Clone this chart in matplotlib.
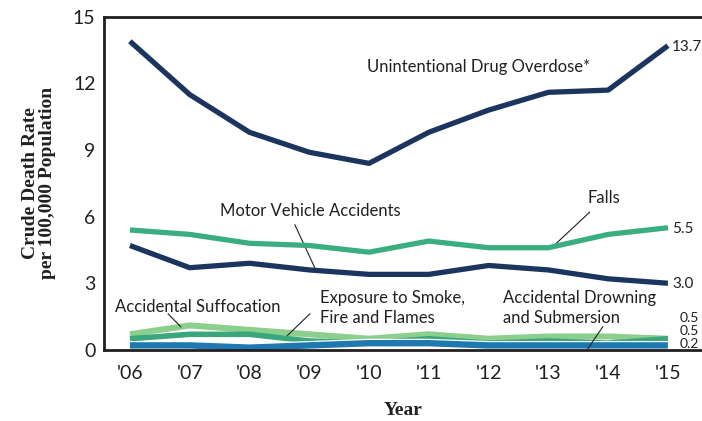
import matplotlib

matplotlib.use("Agg")
import matplotlib.pyplot as plt

years = [2006, 2007, 2008, 2009, 2010, 2011, 2012, 2013, 2014, 2015]
year_labels = ["'06", "'07", "'08", "'09", "'10", "'11", "'12", "'13", "'14", "'15"]

drug_overdose = [13.9, 11.5, 9.8, 8.9, 8.4, 9.8, 10.8, 11.6, 11.7, 13.7]
falls = [5.4, 5.2, 4.8, 4.7, 4.4, 4.9, 4.6, 4.6, 5.2, 5.5]
motor_vehicle = [4.7, 3.7, 3.9, 3.6, 3.4, 3.4, 3.8, 3.6, 3.2, 3.0]
suffocation = [0.7, 1.1, 0.9, 0.7, 0.5, 0.7, 0.5, 0.6, 0.6, 0.5]
smoke_fire = [0.5, 0.7, 0.7, 0.4, 0.3, 0.5, 0.3, 0.4, 0.3, 0.5]
drowning = [0.2, 0.2, 0.1, 0.2, 0.3, 0.3, 0.2, 0.2, 0.2, 0.2]

end_labels = ["13.7", "5.5", "3.0", "0.5", "0.5", "0.2"]

NAVY = "#1c355e"
FALLS_GREEN = "#3aae80"
LIGHT_GREEN = "#8ccf8c"
MID_GREEN = "#3aa67c"
BLUE = "#1f78b0"
INK = "#231f20"

SANS = "Lato"
SERIF = "Liberation Serif"

fig = plt.figure(figsize=(7.02, 4.21), dpi=100)
ax = fig.add_axes([0.148, 0.169, 0.852, 0.791])

ax.plot(years, suffocation, color=LIGHT_GREEN, lw=4.4, solid_capstyle="butt", zorder=2)
ax.plot(years, smoke_fire, color=MID_GREEN, lw=4.0, solid_capstyle="butt", zorder=3)
ax.plot(years, drowning, color="white", lw=6.4, solid_capstyle="butt", zorder=4)
ax.plot(years, drowning, color=BLUE, lw=4.6, solid_capstyle="butt", zorder=4)
ax.plot(years, motor_vehicle, color=NAVY, lw=3.8, solid_capstyle="butt", zorder=5)
ax.plot(years, falls, color=FALLS_GREEN, lw=3.8, solid_capstyle="butt", zorder=5)
ax.plot(years, drug_overdose, color=NAVY, lw=3.8, solid_capstyle="butt", zorder=5)

ax.set_xlim(2005.565, 2015.57)
ax.set_ylim(0, 15)
ax.set_xticks(years)
ax.set_xticklabels(year_labels)
ax.set_yticks([0, 3, 6, 9, 12, 15])
ax.tick_params(length=0, labelsize=14, pad=6, colors=INK)
for lab in ax.get_xticklabels() + ax.get_yticklabels():
    lab.set_family(SANS)
ax.tick_params(axis="x", pad=11)

for side in ("left", "bottom", "top"):
    ax.spines[side].set_color(INK)
    ax.spines[side].set_linewidth(2)
    ax.spines[side].set_zorder(6)
ax.spines["right"].set_visible(False)

ax.set_ylabel("Crude Death Rate\nper 100,000 Population", family=SERIF,
              fontweight="bold", fontsize=14, color=INK, labelpad=12, linespacing=1.05)
ax.set_xlabel("Year", family=SERIF, fontweight="bold", fontsize=14, color=INK, labelpad=14)

txt = dict(family=SANS, fontsize=12, color=INK)
lead = dict(color=INK, lw=0.8)

ax.text(2011.84, 12.75, "Unintentional Drug Overdose*", ha="center", va="center", **txt)

ax.text(2009.01, 6.26, "Motor Vehicle Accidents", ha="center", va="center", **txt)
ax.plot([2008.76, 2009.11], [5.63, 3.6], **lead)

ax.text(2013.93, 6.85, "Falls", ha="center", va="center", **txt)
ax.plot([2013.69, 2013.07], [6.2, 4.64], **lead)

ax.text(2007.14, 1.94, "Accidental Suffocation", ha="center", va="center", **txt)
ax.plot([2006.64, 2006.85], [1.62, 1.04], **lead)

ax.text(2009.18, 1.89, "Exposure to Smoke,\nFire and Flames", ha="left", va="center",
        linespacing=1.3, **txt)
ax.plot([2009.01, 2008.56], [1.62, 0.45], **lead)

ax.text(2012.24, 1.89, "Accidental Drowning\nand Submersion", ha="left", va="center",
        linespacing=1.3, **txt)
ax.plot([2013.91, 2013.66], [1.04, 0.05], zorder=7, **lead)

end_y = [13.65, 5.45, 2.97, 1.44, 0.86, 0.26]
end_x = [2015.07, 2015.07, 2015.07, 2015.2, 2015.2, 2015.2]
end_size = [11, 11, 11, 10, 10, 10]
for x, y, s, fs in zip(end_x, end_y, end_labels, end_size):
    ax.text(x, y, s, ha="left", va="center", clip_on=False,
            family=SANS, fontsize=fs, color=INK)

fig.savefig("out.png", dpi=100)
